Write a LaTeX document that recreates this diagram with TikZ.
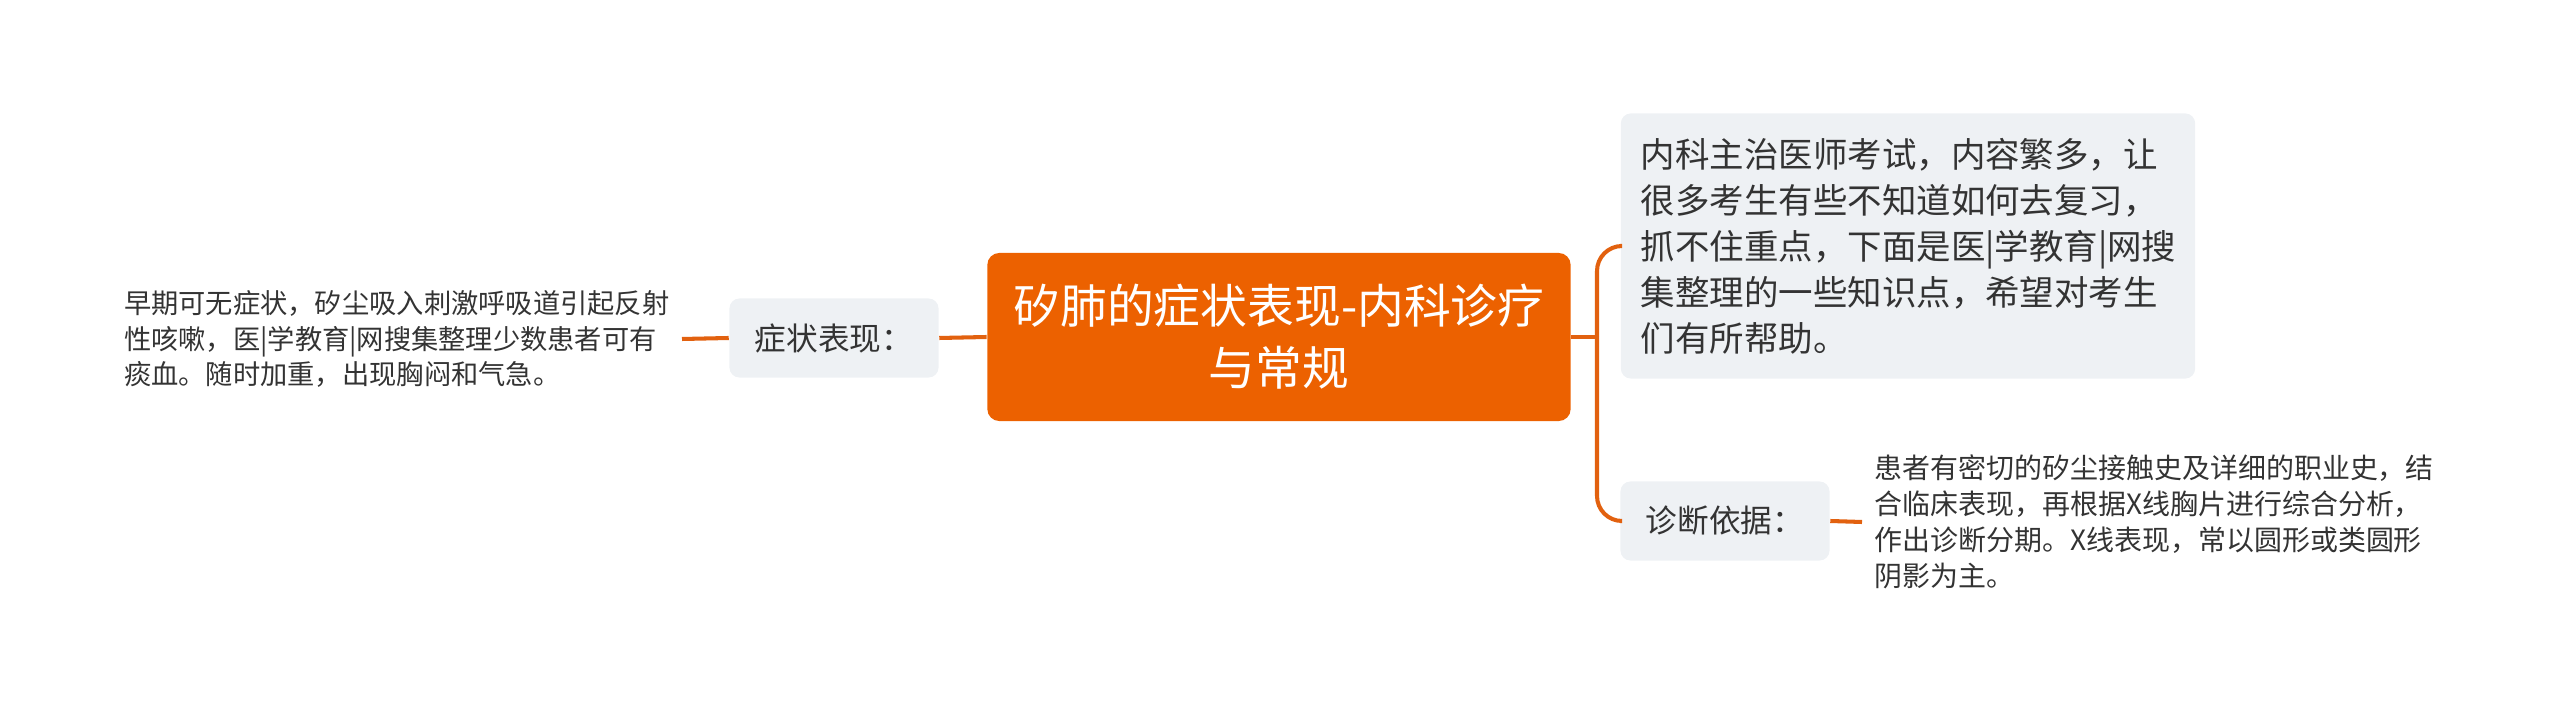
\documentclass[tikz,border=0pt]{standalone}
\usepackage{fontspec}
\setmainfont{Noto Sans CJK SC}
\definecolor{mmorange}{HTML}{EC6100}
\definecolor{mmline}{HTML}{E2610F}
\definecolor{mmgray}{HTML}{EEF1F4}
\definecolor{mmtext}{HTML}{333333}
\tikzset{rt/.style = {rectangle, rounded corners=0.12cm, fill=mmorange, text=white, align=center, minimum width=5.83cm, minimum height=1.68cm, font=\fontsize{13.3pt}{17.6pt}\selectfont},
         sb/.style = {rectangle, rounded corners=0.1cm, fill=mmgray, text=mmtext, align=left, minimum width=2.09cm, minimum height=0.79cm, font=\fontsize{9pt}{12pt}\selectfont},
         lf/.style = {text=mmtext, align=left, inner xsep=0.12cm, font=\fontsize{7.75pt}{10.2pt}\selectfont},
         ln/.style = {draw=mmline, line width=1.15pt}}

\begin{document}
\begin{tikzpicture}[x=0.01cm, y=-0.01cm]
    \useasboundingbox (0,0) rectangle (2560,719);
    \node[rt] (root) at (1279,337) {矽肺的症状表现-内科诊疗\\与常规};
    \node[sb] (sym) at (834,338) {症状表现：};
    \node[lf, anchor=east] (symtx) at (682,339) {早期可无症状，矽尘吸入刺激呼吸道引起反射\\性咳嗽，医|学教育|网搜集整理少数患者可有\\痰血。随时加重，出现胸闷和气急。};
    \node[sb, minimum height=2.65cm, text width=5.34cm, inner xsep=0.2cm, font=\fontsize{9.8pt}{13.1pt}\selectfont] (intro) at (1908,246) {内科主治医师考试，内容繁多，让\\很多考生有些不知道如何去复习，\\抓不住重点，下面是医|学教育|网搜\\集整理的一些知识点，希望对考生\\们有所帮助。};
    \node[sb] (diag) at (1725,521) {诊断依据：};
    \node[lf, anchor=west, font=\fontsize{7.95pt}{10.3pt}\selectfont] (diagtx) at (1862,522) {患者有密切的矽尘接触史及详细的职业史，结\\合临床表现，再根据X线胸片进行综合分析，\\作出诊断分期。X线表现，常以圆形或类圆形\\阴影为主。};
    \coordinate (fork) at (1597,337);
    \draw[ln] (symtx.east) -- (sym.west);
    \draw[ln] (sym.east) -- (root.west);
    \draw[ln] (root.east) -- (fork);
    \draw[ln, rounded corners=0.25cm] (fork) |- (intro.west);
    \draw[ln, rounded corners=0.25cm] (fork) |- (diag.west);
    \draw[ln] (diag.east) -- (diagtx.west);
\end{tikzpicture}
\end{document}
